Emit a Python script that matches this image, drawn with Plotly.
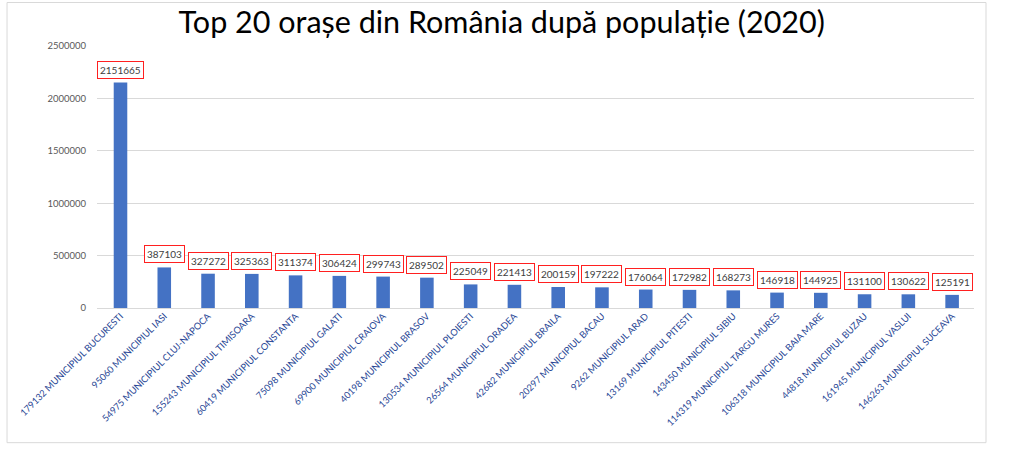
import plotly.graph_objects as go

categories = [
    "179132 MUNICIPIUL BUCURESTI", "95060 MUNICIPIUL IASI", "54975 MUNICIPIUL CLUJ-NAPOCA",
    "155243 MUNICIPIUL TIMISOARA", "60419 MUNICIPIUL CONSTANTA", "75098 MUNICIPIUL GALATI",
    "69900 MUNICIPIUL CRAIOVA", "40198 MUNICIPIUL BRASOV", "130534 MUNICIPIUL PLOIESTI",
    "26564 MUNICIPIUL ORADEA", "42682 MUNICIPIUL BRAILA", "20297 MUNICIPIUL BACAU",
    "9262 MUNICIPIUL ARAD", "13169 MUNICIPIUL PITESTI", "143450 MUNICIPIUL SIBIU",
    "114319 MUNICIPIUL TARGU MURES", "106318 MUNICIPIUL BAIA MARE", "44818 MUNICIPIUL BUZAU",
    "161945 MUNICIPIUL VASLUI", "146263 MUNICIPIUL SUCEAVA",
]
population = [
    2151665, 387103, 327272, 325363, 311374, 306424, 299743, 289502, 225049, 221413,
    200159, 197222, 176064, 172982, 168273, 146918, 144925, 131100, 130622, 125191,
]
title_text = "Top 20 orașe din România după populație (2020)"
y_ticks = [0, 500000, 1000000, 1500000, 2000000, 2500000]

fig = go.Figure()
fig.add_trace(go.Bar(
    x=categories, y=population,
    marker=dict(color="#4472C4", line=dict(width=0)),
    hoverinfo="x+y",
))

for c, v in zip(categories, population):
    fig.add_annotation(
        x=c, y=v, xref="x", yref="y", text=str(v), showarrow=False,
        yanchor="bottom", yshift=4,
        font=dict(family="Lato", size=10, color="#404040"),
        bgcolor="white", bordercolor="#FF2020", borderwidth=1, borderpad=2,
    )

fig.add_shape(
    type="rect", xref="paper", yref="paper",
    x0=-0.1026, x1=1.0137, y0=-0.514, y1=1.166,
    line=dict(color="#D9D9D9", width=1), fillcolor="rgba(0,0,0,0)", layer="below",
)

fig.update_layout(
    width=1026, height=467,
    margin=dict(l=97, r=52, t=45.5, b=159, autoexpand=False),
    paper_bgcolor="white", plot_bgcolor="white",
    title=dict(text=title_text, x=0.489, xanchor="center", y=0.953, yanchor="middle",
               font=dict(family="Lato", size=30.5, color="black")),
    bargap=0.69,
    showlegend=False,
    xaxis=dict(
        type="category", tickangle=-45, showgrid=False, showline=False, ticks="",
        tickfont=dict(family="Lato", size=9.3, color="#2A4896"),
    ),
    yaxis=dict(
        range=[0, 2500000], tickvals=y_ticks, ticktext=[str(t) for t in y_ticks],
        showgrid=True, gridcolor="#D9D9D9", gridwidth=1,
        zeroline=True, zerolinecolor="#D9D9D9", zerolinewidth=1,
        showline=False, ticks="", ticklabelstandoff=10,
        tickfont=dict(family="Lato", size=9.5, color="#595959"),
    ),
)

fig.write_html(
    "out.html",
    config={"displayModeBar": False},
    post_script="document.body.style.margin='0';document.body.style.overflow='hidden';",
)
